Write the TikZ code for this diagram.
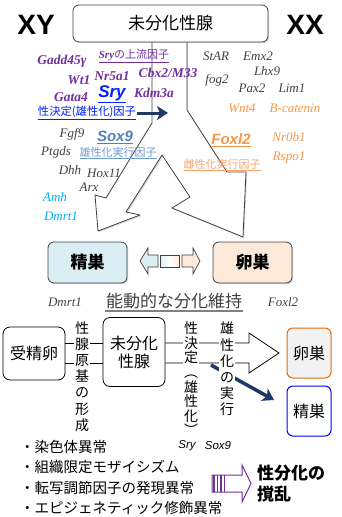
\documentclass[tikz,border=0pt]{standalone}
\usepackage{fontspec}
\setmainfont{Liberation Serif}
\newfontfamily\jpfont{Noto Sans CJK JP}
\newfontfamily\arialfont{Liberation Sans}
\usetikzlibrary{arrows.meta,shadows,calc}
\definecolor{genegray}{HTML}{404040}
\definecolor{genepurple}{HTML}{7030A0}
\definecolor{sryblue}{HTML}{0020FF}
\definecolor{soxblue}{HTML}{4F81BD}
\definecolor{soxlabel}{HTML}{6C9BD8}
\definecolor{amhblue}{HTML}{00B0F0}
\definecolor{foxorange}{HTML}{F79646}
\definecolor{femlabel}{HTML}{F9A66E}
\definecolor{navyarr}{HTML}{1F3864}
\definecolor{testisfill}{HTML}{DAEEF3}
\definecolor{ovaryfill}{HTML}{FDE9D9}
\definecolor{ovaryline}{HTML}{E46C0A}
\definecolor{testisline}{HTML}{0000FF}
\definecolor{boxgray}{HTML}{404040}
\definecolor{paleback}{HTML}{F2F2F2}
\newcommand{\setfs}[1]{\fontsize{#1}{1.15\dimexpr#1pt\relax}\selectfont}
\tikzset{
  gene/.style={font=\setfs{13}\itshape, text=genegray, inner sep=1pt},
  upgene/.style={font=\setfs{13.5}\bfseries\itshape, text=genepurple, inner sep=1pt},
  keygene/.style={font=\arialfont\setfs{15}\bfseries\itshape, inner sep=1pt},
  jplabel/.style={font=\jpfont\setfs{11}, inner sep=1pt},
  outl/.style={draw=boxgray, line width=0.8pt, fill=white, line join=round,
    drop shadow={opacity=0.3, shadow xshift=1.2pt, shadow yshift=-1.2pt}},
  gonadbox/.style={draw=boxgray, line width=0.8pt, rounded corners=6pt,
    minimum width=79pt, minimum height=41pt, font=\jpfont\setfs{17}\bfseries,
    drop shadow={opacity=0.3, shadow xshift=1.2pt, shadow yshift=-1.2pt}},
  flowbox/.style={draw=black, line width=0.8pt, rounded corners=7pt, fill=white,
    font=\jpfont\setfs{16}, align=center},
  smallbox/.style={line width=1pt, rounded corners=6pt, minimum width=44pt,
    minimum height=50pt, font=\jpfont\setfs{16}},
  vtext/.style={font=\jpfont\fontsize{14}{16.2}\selectfont, align=center,
    fill=white, inner sep=1pt},
  flowline/.style={draw=black, line width=0.8pt},
  navyline/.style={draw=navyarr, line width=3.5pt,
    -{Stealth[length=11pt,width=14pt,inset=3pt]}},
  bulletitem/.style={font=\jpfont\setfs{14.5}, anchor=west, inner sep=0pt}
}

\begin{document}
\begin{tikzpicture}[x=1pt,y=-1pt]
\useasboundingbox (0,0) rectangle (342,517);

% split arrow from the undifferentiated gonad
\draw[outl] (152,40) -- (152,123) -- (106,198) -- (95,195) -- (98,231)
  -- (140,215) -- (126,212) -- (162,155) -- (190,197) -- (172,208)
  -- (243,237) -- (246,172) -- (227,172) -- (187,110) -- (187,40) -- cycle;

\node[draw=boxgray, line width=0.8pt, fill=white, rounded corners=6pt,
  minimum width=195pt, minimum height=37pt, font=\jpfont\setfs{17},
  drop shadow={opacity=0.3, shadow xshift=1.2pt, shadow yshift=-1.2pt}]
  (undiff) at (170.5,23.5) {未分化性腺};

\node[font=\arialfont\setfs{28}\bfseries] (xy) at (36,25) {XY};
\node[font=\arialfont\setfs{28}\bfseries] (xx) at (305,25) {XX};

% male side genes
\node[upgene] (gadd) at (62,61) {Gadd45γ};
\node[jplabel, text=genepurple] (srych) at (134,56)
  {\underline{{\rmfamily\bfseries\itshape Sry}の上流因子}};
\node[upgene] (wt1) at (79,80) {Wt1};
\node[upgene] (nr5a1) at (112,76) {Nr5a1};
\node[upgene] (cbx) at (168,73) {Cbx2/M33};
\node[upgene] (gata) at (71,97) {Gata4};
\node[keygene, text=sryblue, font=\arialfont\setfs{17}\bfseries\itshape] (sry) at (112,94) {\underline{Sry}};
\node[upgene] (kdm) at (154,93) {Kdm3a};
\node[jplabel, text=sryblue, font=\jpfont\setfs{11.3}] (sdf) at (87,113) {\underline{性決定(雄性化)因子}};
\coordinate (sdfE) at (168,113);
\draw[navyline, line width=3pt] (sdf.east) -- (sdfE);

\node[gene] (fgf9) at (72,134) {Fgf9};
\node[keygene, text=soxblue] (sox9) at (115,137) {\underline{Sox9}};
\node[gene] (ptgds) at (56,152) {Ptgds};
\node[jplabel, text=soxlabel] (mexec) at (118,153) {\underline{雄性化実行因子}};
\node[gene] (dhh) at (70,170) {Dhh};
\node[gene] (hox) at (104,173) {Hox11};
\node[gene] (arx) at (89,187) {Arx};
\node[gene, text=amhblue] (amh) at (55,197) {Amh};
\node[gene, text=amhblue] (dmrtA) at (61,216) {Dmrt1};

% female side genes
\node[gene] (star) at (216,56) {StAR};
\node[gene] (emx) at (258,56) {Emx2};
\node[gene] (lhx) at (267,71) {Lhx9};
\node[gene] (fog) at (217,80) {fog2};
\node[gene] (pax) at (252,88) {Pax2};
\node[gene] (lim) at (292,88) {Lim1};
\node[gene, text=foxorange] (wnt) at (242,108) {Wnt4};
\node[gene, text=foxorange] (bcat) at (295,108) {B-catenin};
\node[keygene, text=foxorange] (foxl) at (231,140) {\underline{Foxl2}};
\node[gene, text=foxorange] (nr0b) at (289,137) {Nr0b1};
\node[gene, text=foxorange] (rspo) at (289,158) {Rspo1};
\node[jplabel, text=femlabel] (fexec) at (222,165) {\underline{雌性化実行因子}};

% differentiated gonads
\node[gonadbox, fill=testisfill] (testis) at (87.5,262.5) {精巣};
\node[gonadbox, fill=ovaryfill] (ovary) at (252.5,262.5) {卵巣};

\draw[draw=boxgray, line width=0.7pt, fill=testisfill]
  (140,261) -- (148,248) -- (148,255) -- (158,255) -- (158,267) -- (148,267) -- (148,274) -- cycle;
\draw[draw=boxgray, line width=0.7pt, left color=testisfill, right color=ovaryfill, middle color=white]
  (160,255) rectangle (179,267);
\draw[draw=boxgray, line width=0.7pt, fill=ovaryfill]
  (182,255) -- (193,255) -- (193,248) -- (200,261) -- (193,274) -- (193,267) -- (182,267) -- cycle;

\node[gene] (dmrtB) at (65,302) {Dmrt1};
\node[gene] (foxB) at (283,302) {Foxl2};
\node[font=\jpfont\setfs{17}, text=genegray, inner sep=1pt] (maint) at (174,301) {能動的な分化維持};
\draw[gray, line width=1.5pt] ([yshift=-1pt]maint.south west) -- ([yshift=-1pt]maint.south east);

% flow of sex differentiation
\node[flowbox, minimum width=62pt, minimum height=53pt] (zygote) at (34,353.5) {受精卵};
\node[flowbox, minimum width=62pt, minimum height=69pt, text depth=0pt] (rudiment) at (134,352) {未分化\\性腺};
\node[smallbox, draw=ovaryline, fill=paleback] (ovaryB) at (309,353) {卵巣};
\node[smallbox, draw=testisline, fill=white] (testisB) at (309,411) {精巣};

\coordinate (headU) at (249,343);
\coordinate (headL) at (249,363);
\draw[flowline] (zygote.east |- headU) -- (rudiment.west |- headU);
\draw[flowline] (zygote.east |- headL) -- (rudiment.west |- headL);
\draw[flowline, line join=miter] (rudiment.east |- headU) -- (headU) -- (249,333) -- (279,353)
  -- (249,373) -- (headL) -- (rudiment.east |- headL);

\coordinate (brS) at (211,365);
\coordinate (brE) at (274,400);
\draw[navyline] (brS) -- (brE);

\node[vtext] (rudtxt) at (82,376.5) {性\\腺\\原\\基\\の\\形\\成};
\node[vtext, font=\jpfont\fontsize{14}{14.6}\selectfont] (sdtxt) at (191,379) {性\\決\\定\\︵\\雄\\性\\化\\︶};
\node[vtext] (mtxt) at (227,369) {雄\\性\\化\\の\\実\\行};

\node[font=\arialfont\setfs{11.5}\itshape, inner sep=1pt] (sryB) at (187,446) {Sry};
\node[font=\arialfont\setfs{11.5}\itshape, inner sep=1pt] (soxB) at (218,446) {Sox9};

% causes of disorders
\node[bulletitem] (cause1) at (20,447) {・染色体異常};
\node[bulletitem] (cause2) at (20,467) {・組織限定モザイシズム};
\node[bulletitem] (cause3) at (20,488) {・転写調節因子の発現異常};
\node[bulletitem] (cause4) at (20,508) {・エピジェネティック修飾異常};

% striped arrow
\draw[genepurple, line width=1pt, line join=miter] (212,475) -- (242,475) -- (242,465) -- (251,483.5)
  -- (242,502) -- (242,492) -- (212,492) -- cycle;
\foreach \sx in {214,217.5,221,224.5}
  \draw[genepurple, line width=1.3pt] (\sx,475) -- (\sx,492);

\node[font=\jpfont\setfs{17}\bfseries, anchor=west, inner sep=0pt] (dist1) at (257,473) {性分化の};
\node[font=\jpfont\setfs{17}\bfseries, anchor=west, inner sep=0pt] (dist2) at (257,494) {撹乱};
\end{tikzpicture}
\end{document}
